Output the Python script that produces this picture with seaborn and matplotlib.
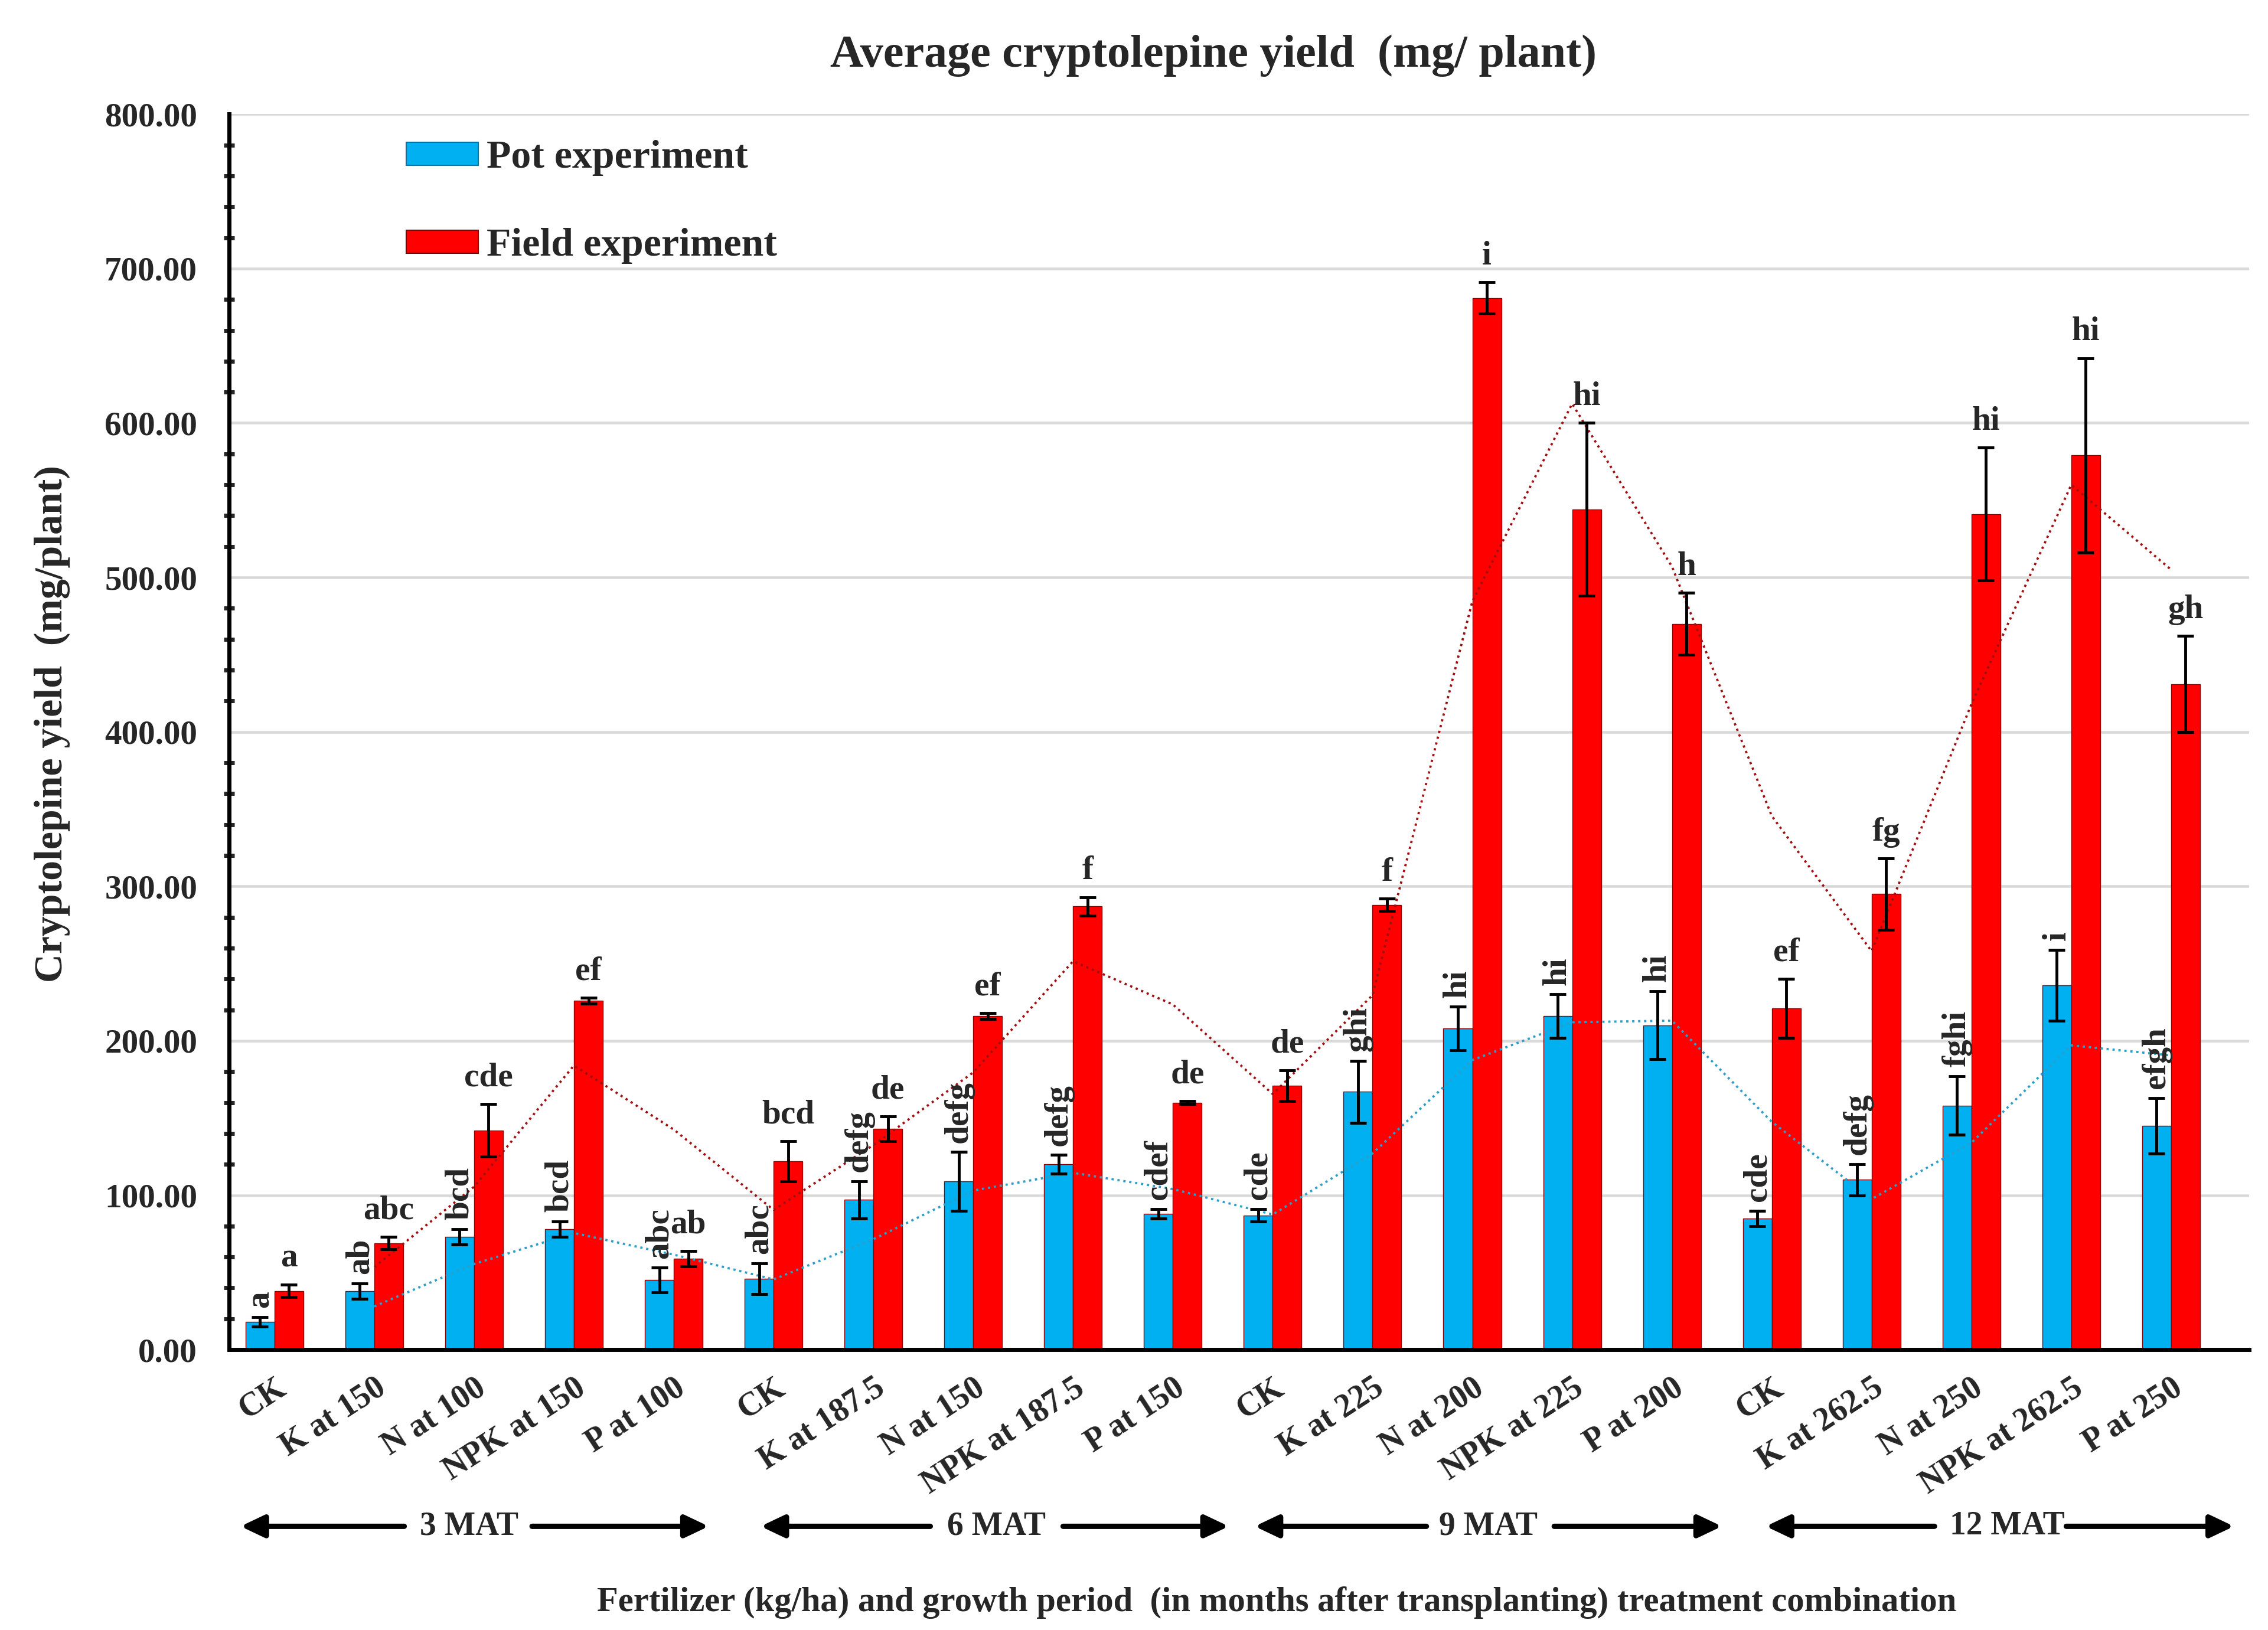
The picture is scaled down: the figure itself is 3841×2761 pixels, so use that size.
import numpy as np
import pandas as pd
import matplotlib
matplotlib.use('Agg')
import matplotlib.pyplot as plt
from matplotlib.patches import Patch
from matplotlib.ticker import MultipleLocator, FormatStrFormatter
import seaborn as sns

# Data
treatments = ['CK', 'K at 150', 'N at 100', 'NPK at 150', 'P at 100',
              'CK', 'K at 187.5', 'N at 150', 'NPK at 187.5', 'P at 150',
              'CK', 'K at 225', 'N at 200', 'NPK at 225', 'P at 200',
              'CK', 'K at 262.5', 'N at 250', 'NPK at 262.5', 'P at 250']
pot_mean = [18, 38, 73, 78, 45, 46, 97, 109, 120, 88,
            87, 167, 208, 216, 210, 85, 110, 158, 236, 145]
pot_err = [3, 5, 5, 5, 8, 10, 12, 19, 6, 3,
           4, 20, 14, 14, 22, 5, 10, 19, 23, 18]
field_mean = [38, 69, 142, 226, 59, 122, 143, 216, 287, 160,
              171, 288, 681, 544, 470, 221, 295, 541, 579, 431]
field_err = [4, 4, 17, 2, 5, 13, 8, 2, 6, 1,
             10, 4, 10, 56, 20, 19, 23, 43, 63, 31]
pot_letters = ['a', 'ab', 'bcd', 'bcd', 'abc', 'abc', 'defg', 'defg', 'defg', 'cdef',
               'cde', 'ghi', 'hi', 'hi', 'hi', 'cde', 'defg', 'fghi', 'i', 'efgh']
field_letters = ['a', 'abc', 'cde', 'ef', 'ab', 'bcd', 'de', 'ef', 'f', 'de',
                 'de', 'f', 'i', 'hi', 'h', 'ef', 'fg', 'hi', 'hi', 'gh']
groups = ['3 MAT', '6 MAT', '9 MAT', '12 MAT']
series = ['Pot experiment', 'Field experiment']

n = len(treatments)
df = pd.DataFrame({
    'slot': list(range(n)) * 2,
    'yield': pot_mean + field_mean,
    'experiment': [series[0]] * n + [series[1]] * n,
})

sns.set_theme(style='white')
plt.rcParams['font.family'] = ['Liberation Serif', 'DejaVu Serif']
plt.rcParams['font.weight'] = 'bold'

blue = '#00B0F0'
red = '#FF0000'

fig = plt.figure(figsize=(3841 / 250, 2761 / 250), dpi=250)
ax = fig.add_axes([0.101, 0.172, 0.8906, 0.758])

sns.barplot(data=df, x='slot', y='yield', hue='experiment', hue_order=series,
            palette=[blue, red], saturation=1, width=0.58, ax=ax, errorbar=None,
            edgecolor='#8a0000', linewidth=0.4, legend=False)

pot_x = [b.get_x() + b.get_width() / 2 for b in ax.containers[0]]
field_x = [b.get_x() + b.get_width() / 2 for b in ax.containers[1]]

ax.errorbar(pot_x, pot_mean, yerr=pot_err, fmt='none', ecolor='black',
            elinewidth=1.4, capsize=4, capthick=1.4, zorder=5)
ax.errorbar(field_x, field_mean, yerr=field_err, fmt='none', ecolor='black',
            elinewidth=1.4, capsize=4, capthick=1.4, zorder=5)

# 2-period moving average trendlines
pos = np.arange(n)
pot_ma = pd.Series(pot_mean).rolling(2).mean()
field_ma = pd.Series(field_mean).rolling(2).mean()
sns.lineplot(x=pos[1:], y=pot_ma[1:].values, ax=ax, color='#2A9FC9',
             linestyle=':', linewidth=1.1, zorder=4)
sns.lineplot(x=pos[1:], y=field_ma[1:].values, ax=ax, color='#A01010',
             linestyle=':', linewidth=1.1, zorder=4)

# significance letters
for x, v, e, s in zip(pot_x, pot_mean, pot_err, pot_letters):
    ax.text(x, v + e + 6, s, rotation=90, ha='center', va='bottom',
            fontsize=16.5, fontweight='bold', zorder=6)
for x, v, e, s in zip(field_x, field_mean, field_err, field_letters):
    ax.text(x, v + e + 7, s, ha='center', va='bottom',
            fontsize=16.5, fontweight='bold', zorder=6)

ax.set_xlim(-0.455, 19.78)
ax.set_ylim(0, 800)
ax.yaxis.set_major_locator(MultipleLocator(100))
ax.yaxis.set_minor_locator(MultipleLocator(20))
ax.yaxis.set_major_formatter(FormatStrFormatter('%.2f'))
ax.grid(axis='y', color='#D9D9D9', linewidth=1.3, zorder=0)
ax.set_axisbelow(True)

ax.set_xticks(pos)
ax.set_xticklabels(treatments, rotation=33, ha='right', rotation_mode='anchor',
                   fontsize=16, fontweight='bold')
for lab in ax.get_yticklabels():
    lab.set_fontsize(16.5)
    lab.set_fontweight('bold')
ax.tick_params(axis='x', direction='out', length=6, width=2, pad=5)
ax.tick_params(axis='y', which='major', direction='inout', length=7, width=2, pad=12)
ax.tick_params(axis='y', which='minor', direction='inout', length=5, width=2, left=True)

for side in ['top', 'right']:
    ax.spines[side].set_visible(False)
for side in ['left', 'bottom']:
    ax.spines[side].set_color('black')
    ax.spines[side].set_linewidth(2)

ax.set_xlabel('')
ax.set_ylabel('')

handles = [Patch(facecolor=blue, edgecolor='#1a6f9a', linewidth=0.6),
           Patch(facecolor=red, edgecolor='#8a0000', linewidth=0.6)]
ax.legend(handles, series, loc='upper left', bbox_to_anchor=(0.07, 1.008),
          frameon=False, prop={'size': 19.5, 'weight': 'bold'},
          handlelength=1.8, handleheight=0.5, handletextpad=0.2, labelspacing=1.3)

# growth period arrows: (start, end, text centre, inner left, inner right)
arrow_layout = [(-0.34, 4.35, 1.95, 1.30, 2.58),
                (4.87, 9.56, 7.23, 6.57, 7.90),
                (9.82, 14.50, 12.16, 11.54, 12.82),
                (14.94, 19.63, 17.36, 16.63, 17.95)]
y_arr = -0.143
arrow_kw = dict(arrowstyle='-|>,head_length=0.8,head_width=0.38', color='black', lw=2.6,
                shrinkA=0, shrinkB=0)
for (a, b, mid, il, ir), g in zip(arrow_layout, groups):
    ax.annotate('', xy=(a, y_arr), xytext=(il, y_arr),
                xycoords=('data', 'axes fraction'), textcoords=('data', 'axes fraction'),
                arrowprops=arrow_kw, annotation_clip=False)
    ax.annotate('', xy=(b, y_arr), xytext=(ir, y_arr),
                xycoords=('data', 'axes fraction'), textcoords=('data', 'axes fraction'),
                arrowprops=arrow_kw, annotation_clip=False)
    ax.text(mid, y_arr, g, transform=ax.get_xaxis_transform(), ha='center',
            va='center', fontsize=16, fontweight='bold', clip_on=False)

fig.text(0.535, 0.966, 'Average cryptolepine yield  (mg/ plant)', ha='center',
         va='center', fontsize=22.5, fontweight='bold')
fig.text(0.023, 0.556, 'Cryptolepine yield  (mg/plant)', rotation=90, ha='center',
         va='center', fontsize=19.5, fontweight='bold')
fig.text(0.563, 0.017, 'Fertilizer (kg/ha) and growth period  (in months after transplanting) treatment combination',
         ha='center', va='center', fontsize=16.9, fontweight='bold')

fig.savefig('out.png', dpi=250)
